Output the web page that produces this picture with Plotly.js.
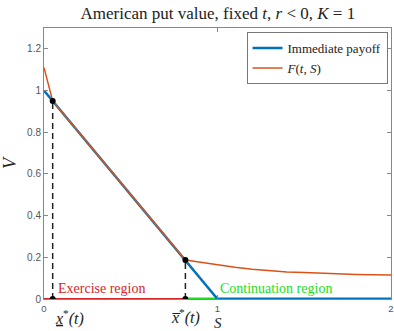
<!DOCTYPE html>
<html><head><meta charset="utf-8">
<script src="https://cdn.plot.ly/plotly-3.0.1.min.js"></script>
<style>html,body{margin:0;padding:0;background:#fff}#c{width:394px;height:331px}</style>
</head><body><div id="c"></div>
<script>
// Immediate payoff max(K - S, 0)
const payoffS = [0, 1, 2];
const payoffV = [1, 0, 0];
// F(t,S)
const fS = [0, 0.025, 0.05, 0.815, 0.9, 1.0, 1.1, 1.2, 1.3, 1.4, 1.5, 1.6, 1.7, 1.8, 1.9, 2.0];
const fV = [1.11, 1.03, 0.95, 0.187, 0.176, 0.163, 0.152, 0.143, 0.136, 0.130, 0.127, 0.123, 0.120, 0.118, 0.116, 0.115];
// boundaries
const xLow = 0.05, vLow = 0.95;
const xHigh = 0.815, vHigh = 0.187;
const exerciseS = [0, xHigh];
const contS = [xHigh, 2];
const xTicks = [0, 1, 2];
const yTicks = [0, 0.2, 0.4, 0.6, 0.8, 1, 1.2];

const serif = "Liberation Serif, Times New Roman, serif";
const traces = [
  {x: exerciseS, y: [0, 0], mode: 'lines', line: {color: '#d62728', width: 2}, showlegend: false, hoverinfo: 'skip'},
  {x: contS, y: [0, 0], mode: 'lines', line: {color: '#22dd22', width: 3}, showlegend: false, hoverinfo: 'skip'},
  {x: payoffS, y: payoffV, mode: 'lines', name: 'Immediate payoff', line: {color: '#0072BD', width: 2.5}},
  {x: fS, y: fV, mode: 'lines', name: '<i>F</i>(<i>t, S</i>)', line: {color: '#D95319', width: 1.5}},
  {x: [xLow, xLow], y: [0, vLow], mode: 'lines', line: {color: '#222', width: 1.5, dash: '6px,4px'}, showlegend: false},
  {x: [xHigh, xHigh], y: [0, vHigh], mode: 'lines', line: {color: '#222', width: 1.5, dash: '6px,4px'}, showlegend: false},
  {x: [xLow, xLow, xHigh, xHigh], y: [0, vLow, 0, vHigh], mode: 'markers', marker: {color: '#000', size: 6}, showlegend: false}
];
const layout = {
  width: 394, height: 331,
  margin: {l: 44, r: 3, t: 28, b: 32},
  paper_bgcolor: '#fff', plot_bgcolor: '#fff',
  title: {text: 'American put value, fixed <i>t</i>, <i>r</i> < 0, <i>K</i> = 1', font: {family: serif, size: 17, color: '#222'}, x: 0.553, xanchor: 'center', y: 0.962, yanchor: 'middle'},
  xaxis: {range: [0, 2], tickvals: xTicks, ticktext: xTicks.map(String), ticks: 'inside', ticklen: 4, tickcolor: '#888', mirror: 'ticks', showline: true, linecolor: '#888', linewidth: 1, showgrid: false, zeroline: false,
          ticklabelstandoff: 1, ticklabeloverflow: 'allow',
          tickfont: {family: 'Liberation Sans', size: 9.5, color: '#555'}},
  yaxis: {range: [0, 1.3], tickvals: yTicks, ticktext: yTicks.map(String), ticks: 'inside', ticklen: 4, tickcolor: '#888', mirror: 'ticks', showline: true, linecolor: '#888', linewidth: 1, showgrid: false, zeroline: false,
          tickfont: {family: 'Liberation Sans', size: 10, color: '#555'},
          title: {text: '<i>V</i>', font: {family: serif, size: 18, color: '#222'}, standoff: 6}},
  legend: {x: 0.99, y: 0.985, xanchor: 'right', yanchor: 'top', bordercolor: '#777', borderwidth: 1, bgcolor: '#fff',
           font: {family: serif, size: 13, color: '#222'}, tracegroupgap: 0, itemwidth: 30},
  showlegend: true,
  annotations: [
    {x: 0.07, y: 0.005, xref: 'x', yref: 'y', text: 'Exercise region', showarrow: false, xanchor: 'left', yanchor: 'bottom', font: {family: serif, size: 14, color: '#d62728'}},
    {x: 1.0, y: 0.005, xref: 'x', yref: 'y', text: 'Continuation region', showarrow: false, xanchor: 'left', yanchor: 'bottom', font: {family: serif, size: 14, color: '#22dd22'}},
    {x: xLow, y: -0.022, xref: 'x', yref: 'paper', text: '<i><u>x</u></i><sup>*</sup><i>(t)</i>', showarrow: false, xanchor: 'left', yanchor: 'top', font: {family: serif, size: 16, color: '#222'}},
    {x: xHigh, y: -0.018, xref: 'x', yref: 'paper', text: '<i>x̅</i><sup>*</sup><i>(t)</i>', showarrow: false, xanchor: 'center', yanchor: 'top', font: {family: serif, size: 16, color: '#222'}},
    {x: 0.5, y: -0.09, xref: 'paper', yref: 'paper', text: '<i>S</i>', showarrow: false, xanchor: 'center', yanchor: 'middle', borderpad: 0, font: {family: serif, size: 15, color: '#222'}}
  ]
};
Plotly.newPlot('c', traces, layout, {staticPlot: true, displayModeBar: false});
</script></body></html>
